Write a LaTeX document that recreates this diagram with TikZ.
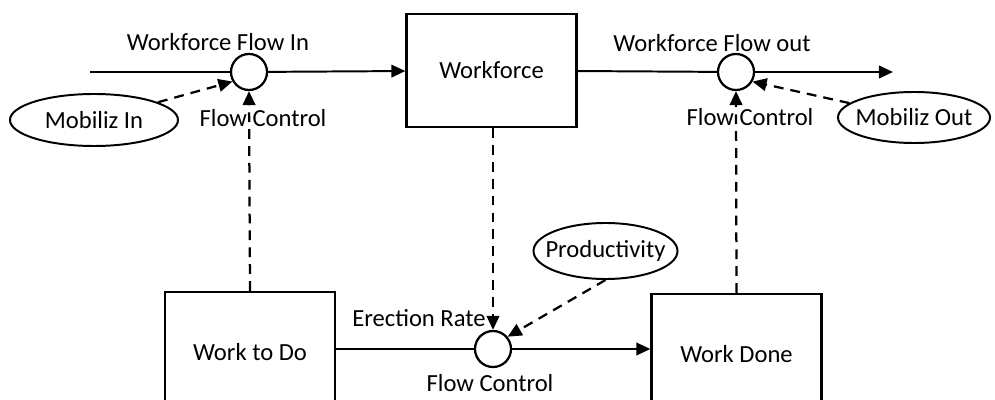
\documentclass[tikz,border=0pt]{standalone}
\usepackage{fontspec}
\setmainfont{Carlito}
\usetikzlibrary{shapes.geometric,arrows.meta}

\begin{document}
\begin{tikzpicture}[x=0.025cm,y=-0.025cm,
	font=\fontsize{17.5}{21}\selectfont,
	stock/.style={draw,line width=1.6pt,minimum width=4.25cm,minimum height=3cm,inner sep=0},
	valve/.style={draw,circle,line width=1.6pt,minimum size=0.9cm,inner sep=0,fill=white},
	aux/.style={draw,ellipse,line width=1.4pt,inner xsep=-8pt,inner ysep=0},
	flow/.style={line width=1.4pt,-{Triangle[length=10pt,width=9pt]}},
	info/.style={line width=1.6pt,dash pattern=on 7pt off 5pt,-{Triangle[length=10pt,width=9pt]}}]
%\draw [help lines] (0,0) grid [step=50] (995,400);
\clip (0,0) rectangle (995,400);

\node [stock, minimum height=2.825cm] (workforce) at (491.5,70.5) {Workforce};
\node [stock] (todo) at (250,352) {Work to Do};
\node [stock] (done) at (736.5,354) {Work Done};

\node [valve] (fcin) at (249,72) {};
\node [valve] (fcout) at (736,72) {};
\node [valve] (fcrate) at (493,349) {};

\node [aux, minimum width=4.2cm, minimum height=1.3cm] (mobin) at (94,120) {Mobiliz In};
\node [aux, minimum width=3.8cm, minimum height=1.275cm] (mobout) at (914,117.5) {Mobiliz Out};
\node [aux, minimum width=3.6cm, minimum height=1.4cm] (prod) at (605.5,251) {Productivity};

\coordinate (src) at (90,72);
\coordinate (sink) at (893,72);

\node (lin) at (218,42) {Workforce Flow In};
\node (lout) at (712,43) {Workforce Flow out};
\node (cin) at (263,118) {Flow Control};
\node (cout) at (750,117) {Flow Control};
\node (lrate) at (419,318) {Erection Rate};
\node (crate) at (490,383) {Flow Control};

\draw [line width=1.4pt] (src) -- (fcin);
\draw [flow] (fcin) -- (workforce);
\draw [line width=1.4pt] (workforce) -- (fcout);
\draw [flow] (fcout) -- (sink);
\draw [line width=1.4pt] (todo.east |- fcrate) -- (fcrate);
\draw [flow] (fcrate) -- (done.west |- fcrate);

\draw [info] (mobin) -- (fcin.210);
\draw [info] (mobout) -- (fcout.330);
\draw [info] (todo.north) -- (fcin.south);
\draw [info] (done.north) -- (fcout.south);
\draw [info] (workforce.south -| fcrate) -- (fcrate.north);
\draw [info] (prod.south) -- (fcrate.40);

\end{tikzpicture}
\end{document}
